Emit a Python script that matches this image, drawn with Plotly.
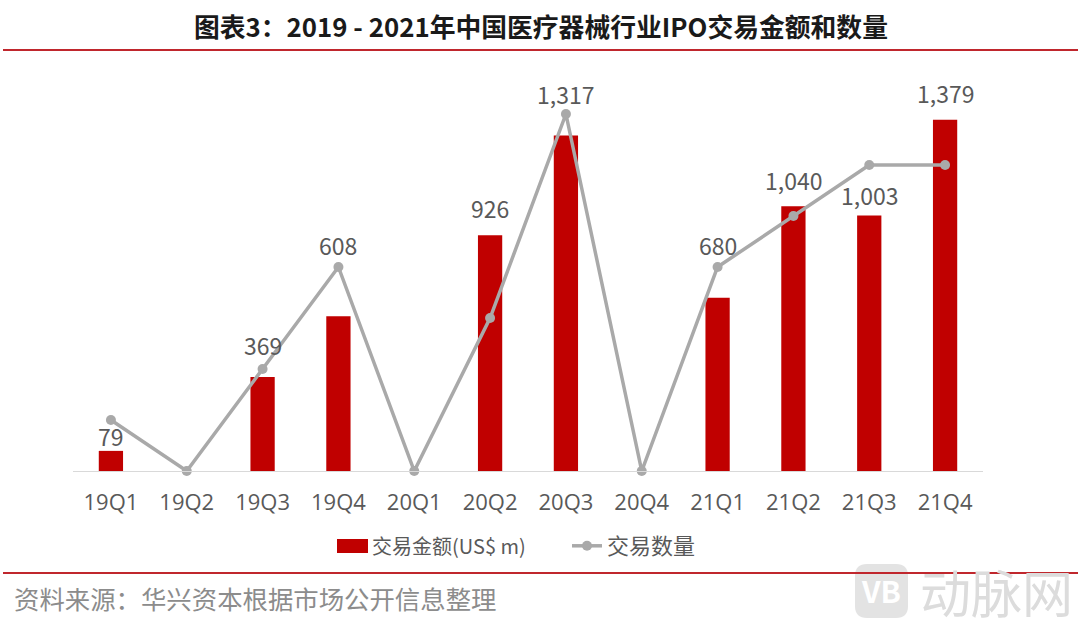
import plotly.graph_objects as go

categories = ["19Q1","19Q2","19Q3","19Q4","20Q1","20Q2","20Q3","20Q4","21Q1","21Q2","21Q3","21Q4"]
amounts = [79,0,369,608,0,926,1317,0,680,1040,1003,1379]
counts = [1,0,2,4,0,3,7,0,4,5,6,6]
label_text = ["79","","369","608","","926","1,317","","680","1,040","1,003","1,379"]
label_shift = [-4,0,13,52,0,8,23,0,34,7,2,8]

W, H = 1080, 628
L, R, T, B = 73, 97, 89, 157
FONT = "Noto Sans CJK SC"
PW, PH = W - L - R, H - T - B
def px(x): return (x - L) / PW
def py(y): return (H - B - y) / PH

fig = go.Figure()
fig.add_trace(go.Bar(x=categories, y=amounts, name="交易金额(US$ m)", width=0.32, showlegend=True,
                     marker=dict(color="#C00000", line_width=0), yaxis="y", legend="legend"))
fig.add_trace(go.Scatter(x=categories, y=counts, name="交易数量", mode="lines+markers", showlegend=True,
                         line=dict(color="#A9A9A9", width=3.5),
                         marker=dict(color="#A9A9A9", size=10), yaxis="y2", cliponaxis=False, legend="legend2"))

for c, a, t, s in zip(categories, amounts, label_text, label_shift):
    if t:
        fig.add_annotation(x=c, y=a, yref="y", text=t, showarrow=False, yanchor="bottom",
                           yshift=s, font=dict(size=23, color="#595959", family=FONT))

fig.add_annotation(xref="paper", yref="paper", x=px(541), y=py(25), text="<b>图表3：2019 - 2021年中国医疗器械行业IPO交易金额和数量</b>",
                   showarrow=False, font=dict(size=25.8, color="#1A1A1A", family=FONT), xanchor="center", yanchor="middle")
fig.add_annotation(xref="paper", yref="paper", x=px(12), y=py(598), text="资料来源：华兴资本根据市场公开信息整理",
                   showarrow=False, font=dict(size=25.4, color="#8C8C8C", family=FONT), xanchor="left", yanchor="middle")
fig.add_annotation(xref="paper", yref="paper", x=px(918), y=py(591), text="动脉网",
                   showarrow=False, font=dict(size=51, color="#DCDCDC", family=FONT), xanchor="left", yanchor="middle")
fig.add_annotation(xref="paper", yref="paper", x=px(881), y=py(590), text="<b>VB</b>",
                   showarrow=False, font=dict(size=30, color="#FFFFFF", family=FONT), xanchor="center", yanchor="middle")

x0, x1, y0, y1, r = px(855), px(908), py(564), py(618), 12
rx, ry = r / PW, r / PH
logo = (f"M{x0+rx},{y0} L{x1-rx},{y0} Q{x1},{y0} {x1},{y0-ry} L{x1},{y1+ry} Q{x1},{y1} {x1-rx},{y1} "
        f"L{x0+rx},{y1} Q{x0},{y1} {x0},{y1+ry} L{x0},{y0-ry} Q{x0},{y0} {x0+rx},{y0} Z")
shapes = [
    dict(type="line", xref="paper", yref="paper", x0=px(3), x1=px(1078), y0=py(50), y1=py(50),
         line=dict(color="#C0272D", width=2)),
    dict(type="line", xref="paper", yref="paper", x0=px(3), x1=px(1078), y0=py(573), y1=py(573),
         line=dict(color="#C0272D", width=2)),
    dict(type="path", xref="paper", yref="paper", path=logo, fillcolor="#E3E3E3", line_width=0, layer="below"),
    dict(type="rect", xref="paper", yref="paper", x0=px(337), x1=px(368), y0=py(539), y1=py(553),
         fillcolor="#C00000", line_width=0),
]

fig.update_layout(
    width=W, height=H, margin=dict(l=L, r=R, t=T, b=B, autoexpand=False),
    paper_bgcolor="white", plot_bgcolor="white", shapes=shapes, showlegend=True,
    font=dict(family=FONT, color="#595959"),
    xaxis=dict(range=[-0.5, 11.5], showgrid=False, showline=True, linecolor="#D9D9D9", linewidth=1, ticks="",
               tickfont=dict(size=22, color="#595959", family="Open Sans"), ticklabelstandoff=12, fixedrange=True),
    yaxis=dict(range=[0,1500], visible=False, showgrid=False),
    yaxis2=dict(range=[0,7.49], visible=False, overlaying="y", showgrid=False),
    legend=dict(x=px(332), xanchor="left", y=py(546), yanchor="middle",
                font=dict(size=20, color="#595959", family=FONT), itemwidth=30, bgcolor="rgba(0,0,0,0)"),
    legend2=dict(x=px(567), xanchor="left", y=py(546), yanchor="middle",
                 font=dict(size=22, color="#595959", family=FONT), itemwidth=30, bgcolor="rgba(0,0,0,0)"),
)
fig.write_html("out.html", config={"displayModeBar": False}, post_script="document.body.style.margin='0';")
